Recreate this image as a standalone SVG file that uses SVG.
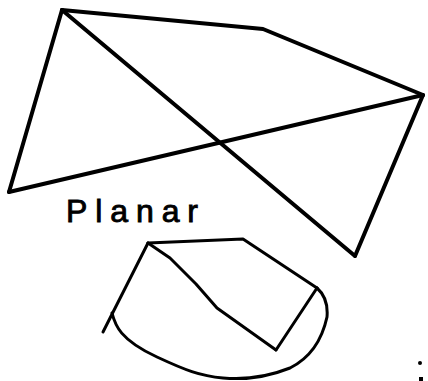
<svg xmlns="http://www.w3.org/2000/svg" width="428" height="381" viewBox="0 0 428 381">
<style>
.e{fill:none;stroke:#000;stroke-linecap:round;stroke-linejoin:round}
.big{stroke-width:4}
.sm{stroke-width:3}
.lbl{font-family:"Liberation Sans",Arial,sans-serif;font-size:32px;fill:#000;stroke:#000;stroke-width:0.9}
</style>
<rect width="428" height="381" fill="#fff"/>
<g id="connectors">
<g id="graph1">
<path class="e big" d="M62,10 L263,29 L423,95"/>
<path class="e big" d="M62,10 L9,192"/>
<path class="e big" d="M9,192 L423,95"/>
<path class="e big" d="M62,10 L355,256"/>
<path class="e big" d="M423,95 L355,256"/>
</g>
<g id="graph2">
<path class="e sm" d="M148,243 L243,239 L317,288"/>
<path class="e sm" d="M317,288 L276,350"/>
<path class="e sm" d="M276,350 L217,308 L196,284 L170,258 L148,243"/>
<path class="e sm" d="M148,243 L103,332"/>
<path class="e sm" d="M112,313 C115,325 120,340 157,357 C185,370 200,376 223,378 C245,380 265,378 290,368 C310,358 322,340 327,317 C328,305 325,295 317,288"/>
</g>
</g>
<g id="label">
<text class="lbl" x="66" y="222" textLength="132" lengthAdjust="spacing">Planar</text>
</g>
<circle cx="420" cy="363" r="2" fill="#000"/>
<rect x="419" y="377" width="4" height="4" fill="#000"/>
</svg>
